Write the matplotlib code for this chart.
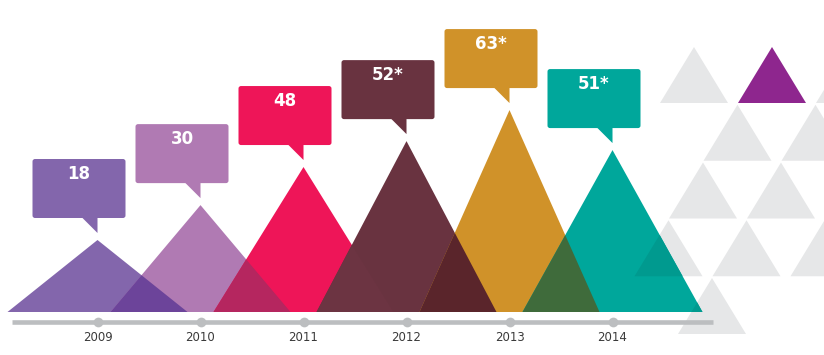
import matplotlib
matplotlib.use("Agg")
import matplotlib.pyplot as plt
from matplotlib.patches import Polygon, FancyBboxPatch

# ---- data -----------------------------------------------------------
years = [2009, 2010, 2011, 2012, 2013, 2014]
values = [18, 30, 48, 52, 63, 51]
value_labels = ["18", "30", "48", "52*", "63*", "51*"]
peak_heights = [22.5, 33.4, 45.3, 53.4, 63.1, 50.6]   # drawn triangle heights (value units)
colors = ["#8366AC", "#B07AB3", "#EE1558", "#693340", "#D09229", "#00A79B"]
overlap_colors = ["#6C449A", "#B5265F", "#6C3442", "#5A252B", "#3F6B3B"]
year_labels = ["2009", "2010", "2011", "2012", "2013", "2014"]

# decorative triangle lattice: (row, column, colour)
deco = [(0, 0, "#E6E7E8"), (0, 1, "#8E268E"), (0, 2, "#E6E7E8"),
        (1, 1, "#E6E7E8"), (1, 2, "#E6E7E8"),
        (2, 1, "#E6E7E8"), (2, 2, "#E6E7E8"),
        (3, 1, "#E6E7E8"), (3, 2, "#E6E7E8"), (3, 3, "#E6E7E8"),
        (4, 2, "#E6E7E8")]

# ---- scale (pixels per unit) ----------------------------------------
W, H = 824, 355
PXX = 103.0      # px per year
PXY = 3.2        # px per value unit
x0_px, base_px = 97.5, 312.0

fig = plt.figure(figsize=(W / 100, H / 100), dpi=100)
ax = fig.add_axes([0, 0, 1, 1])
ax.set_xlim(years[0] - x0_px / PXX, years[0] + (W - x0_px) / PXX)
ax.set_ylim(-(H - base_px) / PXY, base_px / PXY)
ax.axis("off")

def dx(px):
    return px / PXX

def dy(px):
    return px / PXY

half_w = dx(90)

def tri(x, h):
    return [(x - half_w, 0), (x, h), (x + half_w, 0)]

def clip(subject, clipper):
    # Sutherland-Hodgman, clipper convex counter-clockwise
    def inside(p, a, b):
        return (b[0] - a[0]) * (p[1] - a[1]) - (b[1] - a[1]) * (p[0] - a[0]) >= 0
    def inter(p, q, a, b):
        x1, y1 = p; x2, y2 = q; x3, y3 = a; x4, y4 = b
        den = (x1 - x2) * (y3 - y4) - (y1 - y2) * (x3 - x4)
        t = ((x1 - x3) * (y3 - y4) - (y1 - y3) * (x3 - x4)) / den
        return (x1 + t * (x2 - x1), y1 + t * (y2 - y1))
    out = list(subject)
    n = len(clipper)
    for i in range(n):
        a, b = clipper[i], clipper[(i + 1) % n]
        inp = out
        out = []
        if not inp:
            break
        s = inp[-1]
        for e in inp:
            if inside(e, a, b):
                if not inside(s, a, b):
                    out.append(inter(s, e, a, b))
                out.append(e)
            elif inside(s, a, b):
                out.append(inter(s, e, a, b))
            s = e
    return out

# ---- decorative lattice ---------------------------------------------
deco_x0 = years[-1] + dx(694 - 612.5)
deco_top = dy(base_px - 47)
col_pitch, row_shift = dx(78), dx(-34.5)
row_pitch, d_h, d_hw = dy(57.75), dy(56), dx(34)
deco_tris = []
for r, c, col in deco:
    cx = deco_x0 + c * col_pitch + r * row_shift
    ay = deco_top - r * row_pitch
    pts = [(cx - d_hw, ay - d_h), (cx + d_hw, ay - d_h), (cx, ay)]
    deco_tris.append(pts)
    ax.add_patch(Polygon(pts, closed=True, facecolor=col, edgecolor="none", zorder=1))

# ---- main triangles ---------------------------------------------------
for x, h, col in zip(years, peak_heights, colors):
    ax.add_patch(Polygon(tri(x, h), closed=True, facecolor=col, edgecolor="none", zorder=2))

for i in range(len(years) - 1):
    xi, hi = years[i], peak_heights[i]
    xj, hj = years[i + 1], peak_heights[i + 1]
    xs = (hi * (xi + half_w) + hj * (xj - half_w)) / (hi + hj)
    ys = hi * (xi + half_w - xs) / half_w
    ax.add_patch(Polygon([(xj - half_w, 0), (xs, ys), (xi + half_w, 0)], closed=True,
                         facecolor=overlap_colors[i], edgecolor="none", zorder=3))

# teal over grey lattice -> darker teal
teal = [(years[-1] - half_w, 0), (years[-1] + half_w, 0), (years[-1], peak_heights[-1])]
for pts, (r, c, col) in zip(deco_tris, deco):
    inter_poly = clip(pts, teal)
    if len(inter_poly) >= 3:
        ax.add_patch(Polygon(inter_poly, closed=True, facecolor="#009A8F",
                             edgecolor="none", zorder=3))

# ---- callouts -------------------------------------------------------
box_w, box_h = dx(93), dy(59)
for x, h, col, lab in zip(years, peak_heights, colors, value_labels):
    bb = h + dy(22)
    left = x - dx(65)
    ax.add_patch(FancyBboxPatch((left, bb), box_w, box_h,
                                boxstyle="round,pad=0,rounding_size=%f" % dx(2.5),
                                mutation_aspect=PXX / PXY,
                                facecolor=col, edgecolor="none", zorder=4))
    ax.add_patch(Polygon([(x - dx(16), bb + dy(1)), (x, bb - dy(15)), (x, bb + dy(1))],
                         closed=True, facecolor=col, edgecolor="none", zorder=4))
    ax.text(left + box_w / 2, bb + box_h - dy(15), lab, ha="center", va="center",
            color="white", fontsize=12, fontweight="bold", family="DejaVu Sans", zorder=5)

# ---- axis line ------------------------------------------------------
axis_y = -dy(10)
ax.plot([years[0] - dx(85.5), years[-1] + dx(100)], [axis_y, axis_y], color="#BCBEC0",
        lw=3.3, solid_capstyle="butt", zorder=6)
ax.plot(years, [axis_y] * len(years), "o", ms=7, color="#BCBEC0", mec="none", zorder=7)
for x, lab in zip(years, year_labels):
    ax.text(x, -dy(25.5), lab, ha="center", va="center", fontsize=8.5,
            color="#3A3A3A", family="DejaVu Sans", zorder=7)

fig.savefig("out.png", dpi=100)
